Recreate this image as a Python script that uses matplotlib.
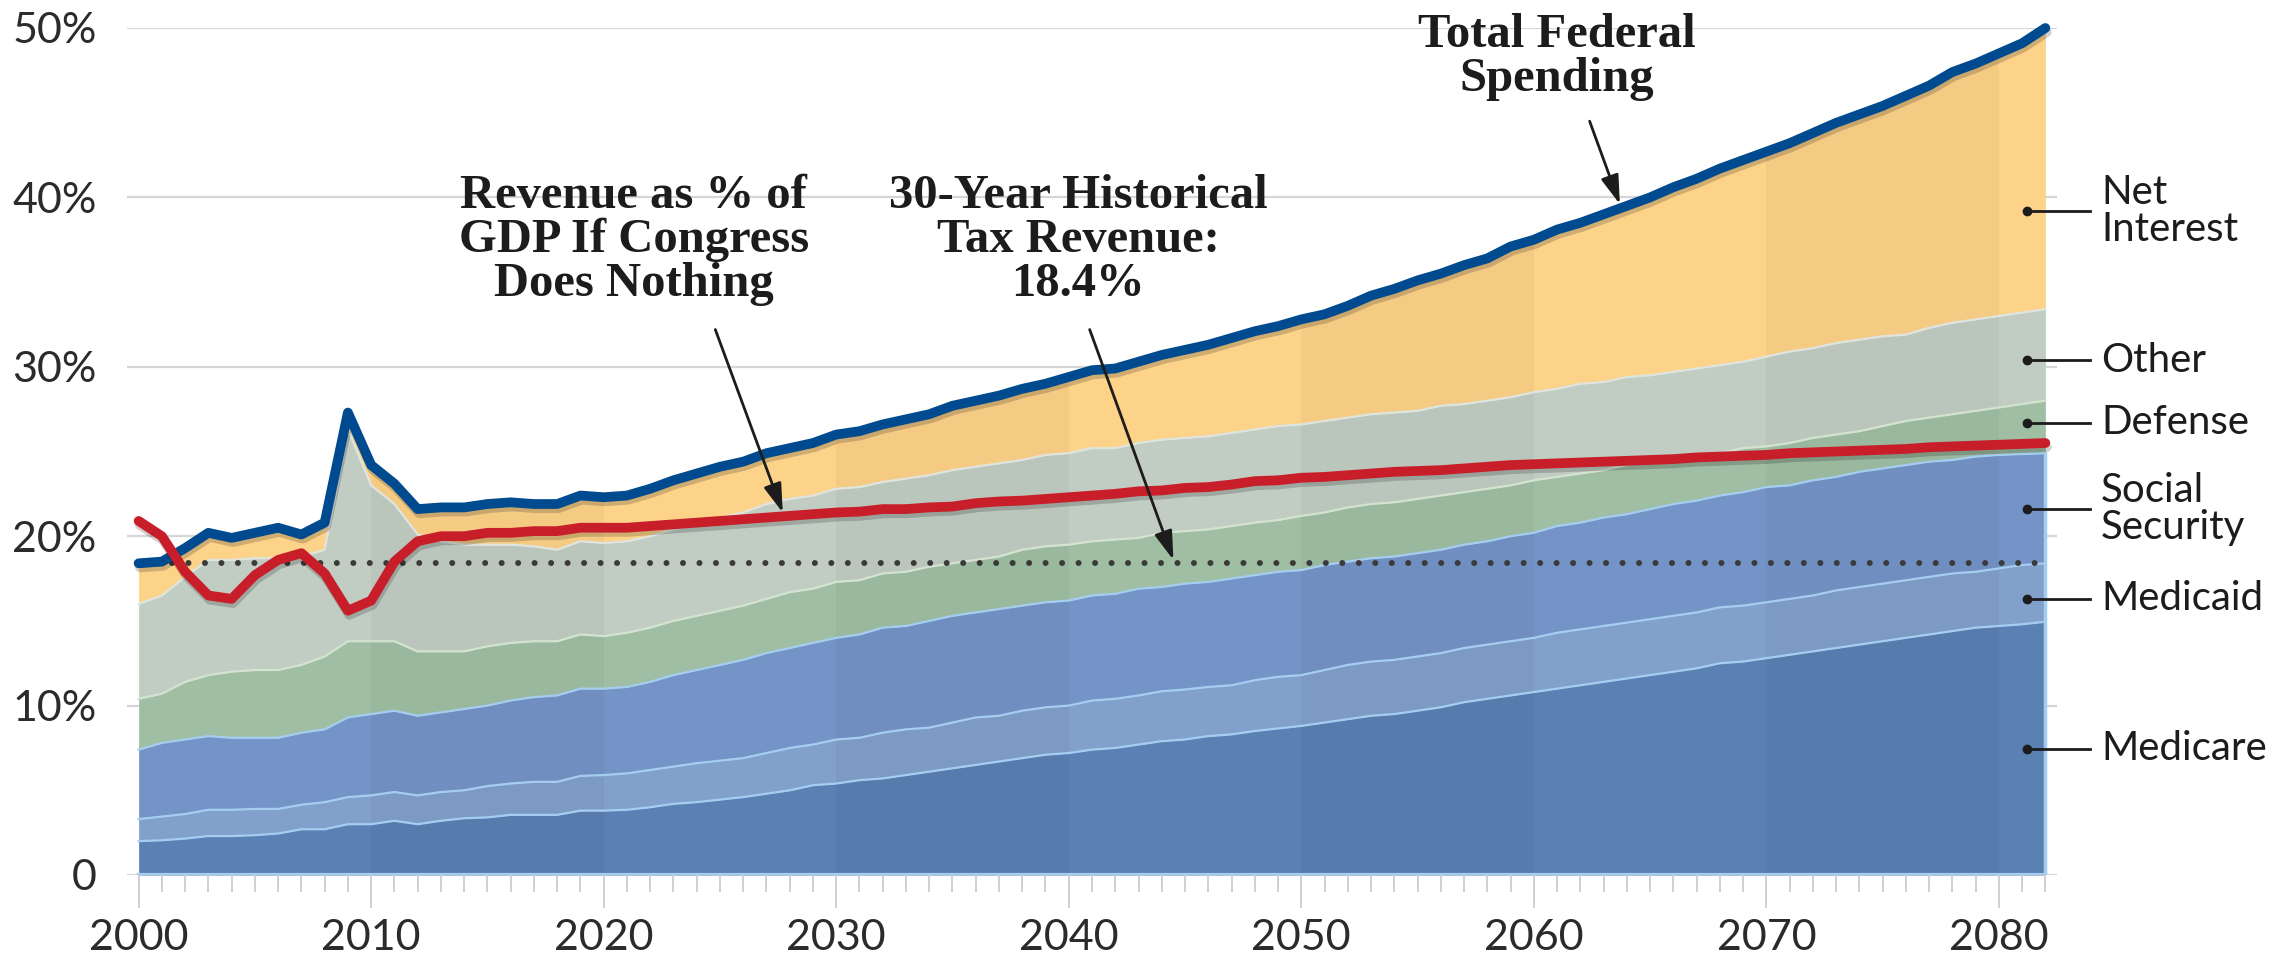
"""
Federal spending by component vs. revenue, % of GDP, 2000-2082.
Stacked areas for each budget component, with total spending and
revenue lines plus the 30-year historical average.
"""

import numpy as np
import matplotlib
matplotlib.use("Agg")
import matplotlib.pyplot as plt
import matplotlib.patheffects as pe
from matplotlib.patches import Polygon

plt.rcParams["font.family"] = ["Lato", "DejaVu Sans"]

years = np.arange(2000, 2083)

# cumulative tops of each stacked layer (% of GDP)
medicare_top = [
    2.0, 2.05, 2.15, 2.3, 2.3, 2.35, 2.45, 2.7, 2.7, 3.0,
    3.0, 3.2, 3.0, 3.2, 3.35, 3.4, 3.55, 3.55, 3.55, 3.8,
    3.8, 3.85, 4.0, 4.2, 4.3, 4.45, 4.6, 4.8, 5.0, 5.3,
    5.4, 5.6, 5.7, 5.9, 6.1, 6.3, 6.5, 6.7, 6.9, 7.1,
    7.2, 7.4, 7.5, 7.7, 7.9, 8.0, 8.2, 8.3, 8.5, 8.65,
    8.8, 9.0, 9.2, 9.4, 9.5, 9.7, 9.9, 10.2, 10.4, 10.6,
    10.8, 11.0, 11.2, 11.4, 11.6, 11.8, 12.0, 12.2, 12.5, 12.6,
    12.8, 13.0, 13.2, 13.4, 13.6, 13.8, 14.0, 14.2, 14.4, 14.6,
    14.7, 14.8, 14.95,
]
medicaid_top = [
    3.3, 3.45, 3.6, 3.85, 3.85, 3.9, 3.9, 4.15, 4.3, 4.6,
    4.7, 4.9, 4.7, 4.9, 5.0, 5.25, 5.4, 5.5, 5.5, 5.85,
    5.9, 6.0, 6.2, 6.4, 6.6, 6.75, 6.9, 7.2, 7.5, 7.7,
    8.0, 8.1, 8.4, 8.6, 8.7, 9.0, 9.3, 9.4, 9.7, 9.9,
    10.0, 10.3, 10.4, 10.6, 10.85, 10.95, 11.1, 11.2, 11.5, 11.7,
    11.8, 12.1, 12.4, 12.6, 12.7, 12.9, 13.1, 13.4, 13.6, 13.8,
    14.0, 14.3, 14.5, 14.7, 14.9, 15.1, 15.3, 15.5, 15.8, 15.9,
    16.1, 16.3, 16.5, 16.8, 17.0, 17.2, 17.4, 17.6, 17.8, 17.9,
    18.1, 18.3, 18.4,
]
social_security_top = [
    7.4, 7.8, 8.0, 8.2, 8.1, 8.1, 8.1, 8.4, 8.6, 9.3,
    9.5, 9.7, 9.4, 9.6, 9.8, 10.0, 10.3, 10.5, 10.6, 11.0,
    11.0, 11.1, 11.4, 11.8, 12.1, 12.4, 12.7, 13.1, 13.4, 13.7,
    14.0, 14.2, 14.6, 14.7, 15.0, 15.3, 15.5, 15.7, 15.9, 16.1,
    16.2, 16.5, 16.6, 16.9, 17.0, 17.2, 17.3, 17.5, 17.7, 17.9,
    18.0, 18.3, 18.5, 18.7, 18.8, 19.0, 19.2, 19.5, 19.7, 20.0,
    20.2, 20.6, 20.8, 21.1, 21.3, 21.6, 21.9, 22.1, 22.4, 22.6,
    22.9, 23.0, 23.3, 23.5, 23.8, 24.0, 24.2, 24.4, 24.5, 24.7,
    24.8, 24.85, 24.9,
]
defense_top = [
    10.4, 10.7, 11.4, 11.8, 12.0, 12.1, 12.1, 12.4, 12.9, 13.8,
    13.8, 13.8, 13.2, 13.2, 13.2, 13.5, 13.7, 13.8, 13.8, 14.2,
    14.1, 14.3, 14.6, 15.0, 15.3, 15.6, 15.9, 16.3, 16.7, 16.9,
    17.3, 17.4, 17.8, 17.9, 18.2, 18.4, 18.6, 18.8, 19.2, 19.4,
    19.5, 19.7, 19.8, 19.9, 20.2, 20.3, 20.4, 20.6, 20.8, 20.95,
    21.2, 21.4, 21.7, 21.9, 22.0, 22.2, 22.4, 22.6, 22.8, 23.0,
    23.3, 23.5, 23.7, 23.9, 24.2, 24.4, 24.6, 24.8, 24.9, 25.2,
    25.3, 25.5, 25.8, 26.0, 26.2, 26.5, 26.8, 27.0, 27.2, 27.4,
    27.6, 27.8, 28.0,
]
other_top = [
    16.0, 16.5, 17.6, 18.6, 18.6, 18.7, 18.7, 18.8, 19.2, 26.3,
    23.0, 21.9, 20.1, 19.7, 19.5, 19.5, 19.5, 19.4, 19.2, 19.7,
    19.6, 19.7, 20.0, 20.4, 20.7, 21.1, 21.4, 21.9, 22.2, 22.4,
    22.8, 22.9, 23.2, 23.4, 23.6, 23.9, 24.1, 24.3, 24.5, 24.8,
    24.9, 25.2, 25.2, 25.5, 25.7, 25.8, 25.9, 26.1, 26.3, 26.5,
    26.6, 26.8, 27.0, 27.2, 27.3, 27.4, 27.7, 27.8, 28.0, 28.2,
    28.5, 28.7, 29.0, 29.1, 29.4, 29.5, 29.7, 29.9, 30.1, 30.3,
    30.6, 30.9, 31.1, 31.4, 31.6, 31.8, 31.9, 32.3, 32.6, 32.8,
    33.0, 33.2, 33.4,
]
# top of net interest = total federal spending
total_spending = [
    18.4, 18.5, 19.3, 20.2, 19.9, 20.2, 20.5, 20.1, 20.8, 27.3,
    24.2, 23.1, 21.6, 21.7, 21.7, 21.9, 22.0, 21.9, 21.9, 22.4,
    22.3, 22.4, 22.8, 23.3, 23.7, 24.1, 24.4, 24.9, 25.2, 25.5,
    26.0, 26.2, 26.6, 26.9, 27.2, 27.7, 28.0, 28.3, 28.7, 29.0,
    29.4, 29.8, 29.9, 30.3, 30.7, 31.0, 31.3, 31.7, 32.1, 32.4,
    32.8, 33.1, 33.6, 34.2, 34.6, 35.1, 35.5, 36.0, 36.4, 37.1,
    37.5, 38.1, 38.5, 39.0, 39.5, 40.0, 40.6, 41.1, 41.7, 42.2,
    42.7, 43.2, 43.8, 44.4, 44.9, 45.4, 46.0, 46.6, 47.4, 47.9,
    48.5, 49.1, 50.0,
]
revenue = [
    20.9, 20.0, 17.9, 16.5, 16.3, 17.7, 18.6, 19.0, 17.8, 15.6,
    16.2, 18.5, 19.7, 20.0, 20.0, 20.2, 20.2, 20.3, 20.3, 20.5,
    20.5, 20.5, 20.6, 20.7, 20.8, 20.9, 21.0, 21.1, 21.2, 21.3,
    21.4, 21.45, 21.6, 21.6, 21.7, 21.75, 21.95, 22.05, 22.1, 22.2,
    22.3, 22.4, 22.5, 22.65, 22.7, 22.85, 22.9, 23.05, 23.25, 23.3,
    23.45, 23.5, 23.6, 23.7, 23.8, 23.85, 23.9, 24.0, 24.1, 24.2,
    24.25, 24.3, 24.35, 24.4, 24.45, 24.5, 24.55, 24.65, 24.7, 24.75,
    24.8, 24.9, 24.95, 25.0, 25.05, 25.1, 25.15, 25.25, 25.3, 25.35,
    25.4, 25.45, 25.5,
]
historical_avg = 18.4

layer_names = ["Medicare", "Medicaid", "Social\nSecurity", "Defense", "Other", "Net\nInterest"]
layer_label_y = [7.45, 16.3, 21.6, 26.7, 30.4, 39.2]

# ---- styling
fills = ["#5b80b4", "#81a0cb", "#7493c6", "#a0bea4", "#c1ccc3", "#fdd289"]
edges = ["#a4cdef", "#a4cdef", "#a4cdef", "#d3e3cf", "#dfe5de", None]
BLUE = "#004a8f"
RED = "#c81e2a"
INK = "#1c1c1c"

fig = plt.figure(figsize=(22.94, 9.68), dpi=100)
ax = fig.add_axes([127 / 2294, 93 / 968, 1930 / 2294, 847 / 968])
ax.set_xlim(1999.5, 2082.5)
ax.set_ylim(0, 50)
for s in ax.spines.values():
    s.set_visible(False)

for y in range(0, 51, 10):
    ax.axhline(y, color="#d6d6d6", lw=1.6, zorder=0)

tops = [medicare_top, medicaid_top, social_security_top, defense_top, other_top, total_spending]
lower = np.zeros(len(years))
for top, fc, ec in zip(tops, fills, edges):
    top = np.asarray(top)
    ax.fill_between(years, lower, top, color=fc, lw=0, zorder=1)
    if ec:
        ax.plot(years, top, color=ec, lw=1.6, zorder=2)
    lower = top

# alternating decade shading, clipped to the stacked area
env = Polygon(np.column_stack([np.r_[years, years[::-1]],
                               np.r_[total_spending, np.zeros(len(years))]]),
              closed=True, transform=ax.transData)
for d in (2010, 2030, 2050, 2070):
    band = ax.axvspan(d, d + 10, color="black", alpha=0.03, lw=0, zorder=1.5)
    band.set_clip_path(env)

ax.plot([2000, 2082], [0, 0], color="#a4cdef", lw=3, zorder=2)
ax.plot([2082, 2082], [0, social_security_top[-1]], color="#a4cdef", lw=2.5, zorder=2)

ax.plot([2000, 2082], [historical_avg, historical_avg], color="#3a3a3a", lw=4.3,
        ls=(0, (0.01, 2.75)), dash_capstyle="round", zorder=3)

shadow = [pe.SimpleLineShadow(offset=(1, -3), shadow_color="black", alpha=0.18), pe.Normal()]
ax.plot(years, total_spending, color=BLUE, lw=7, solid_capstyle="round",
        solid_joinstyle="round", zorder=5, clip_on=False, path_effects=shadow)
ax.plot(years, revenue, color=RED, lw=7, solid_capstyle="round",
        solid_joinstyle="round", zorder=6, clip_on=False, path_effects=shadow)

# axes ticks
ax.set_xticks(range(2000, 2081, 10))
ax.set_xticks(years, minor=True)
ax.tick_params(axis="x", which="major", length=24, width=1.4, color="#cfcfcf",
               pad=8, labelsize=31, labelcolor="#2b2b2b")
ax.tick_params(axis="x", which="minor", length=12, width=1.4, color="#cfcfcf")
ax.set_yticks(range(0, 51, 10))
ax.set_yticklabels(["0", "10%", "20%", "30%", "40%", "50%"])
ax.tick_params(axis="y", length=0, pad=22, labelsize=31, labelcolor="#2b2b2b")

# right-hand layer labels
for name, y in zip(layer_names, layer_label_y):
    ax.plot([2081.2, 2083.9], [y, y], color=INK, lw=2, zorder=7, clip_on=False)
    ax.plot(2081.2, y, "o", ms=6, color=INK, zorder=7, clip_on=False)
    ax.text(2084.4, y, name, fontsize=29, color=INK, ha="left", va="center",
            linespacing=1.0, clip_on=False)

# callouts
serif = dict(family=["Liberation Serif", "DejaVu Serif"], weight="bold", fontsize=35,
             color=INK, ha="center", va="center", linespacing=1.0, zorder=8)
ax.text(2061.0, 48.3, "Total Federal\nSpending", **serif)
ax.text(2021.3, 37.5, "Revenue as % of\nGDP If Congress\nDoes Nothing", **serif)
ax.text(2040.4, 37.5, "30-Year Historical\nTax Revenue:\n18.4%", **serif)

arrow = dict(arrowstyle="-|>,head_length=0.8,head_width=0.25", color=INK, lw=2,
             mutation_scale=22, shrinkA=0, shrinkB=0)
ax.annotate("", xy=(2063.7, 39.6), xytext=(2062.4, 44.5), arrowprops=arrow, zorder=8)
ax.annotate("", xy=(2027.7, 21.4), xytext=(2024.8, 32.2), arrowprops=arrow, zorder=8)
ax.annotate("", xy=(2044.5, 18.6), xytext=(2040.9, 32.2), arrowprops=arrow, zorder=8)

fig.savefig("out.png", dpi=100)
